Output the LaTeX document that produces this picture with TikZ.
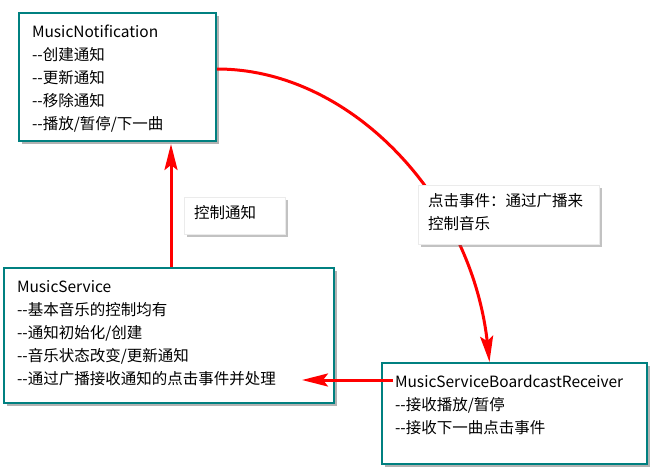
\documentclass[tikz,border=0pt]{standalone}
\usepackage{fontspec}
\setmainfont{Noto Sans CJK SC}
\usepackage{tikz}
\usetikzlibrary{arrows.meta,shadows,calc}

\newcommand\boxtext[3]{\begin{minipage}[t][#2][t]{#1}\strut#3\end{minipage}}

\tikzset{
  mbox/.style={draw=teal, line width=2pt, fill=white, anchor=north west,
    inner xsep=13pt, inner ysep=8pt,
    drop shadow={shadow xshift=3pt, shadow yshift=-3pt, opacity=.5, fill=black!60}},
  tag/.style={draw=black!8, fill=white, anchor=north west,
    inner xsep=10pt, inner ysep=5pt,
    drop shadow={shadow xshift=3pt, shadow yshift=-3pt, opacity=.4, fill=black!60}},
  arr/.style={draw=red, line width=3pt, -{Stealth[length=26pt,width=13pt,inset=5pt]}}
}

\begin{document}
\begin{tikzpicture}[x=1pt, y=-1pt, font=\fontsize{15.5}{23}\selectfont]
    \useasboundingbox (0,0) rectangle (653,474);

    % Boxes
    \node[mbox] (notif) at (18,12) {\boxtext{171pt}{112pt}{MusicNotification\\
        -{}-创建通知\\
        -{}-更新通知\\
        -{}-移除通知\\
        -{}-播放/暂停/下一曲}};
    \node[mbox] (svc) at (3,267) {\boxtext{304pt}{119pt}{MusicService\\
        -{}-基本音乐的控制均有\\
        -{}-通知初始化/创建\\
        -{}-音乐状态改变/更新通知\\
        -{}-通过广播接收通知的点击事件并处理}};
    \node[mbox] (recv) at (381,362) {\boxtext{239pt}{85pt}{MusicServiceBoardcastReceiver\\
        -{}-接收播放/暂停\\
        -{}-接收下一曲点击事件}};

    % Connector ends
    \coordinate (up) at (171,0);
    \coordinate (recvOut) at (393,380);
    \coordinate (svcIn) at (302,380);

    % Arrows
    \draw[arr] (svc.north -| up) -- ([yshift=-2pt]notif.south -| up);
    \draw[arr] ([yshift=8pt]notif.east) .. controls +(135,0) and +(-18,-162) .. ([xshift=-25pt]recv.north);
    \draw[arr] (recvOut) -- (svcIn);

    % Labels
    \node[tag] (ctl) at (184,197) {\boxtext{81pt}{27pt}{控制通知}};
    \node[tag] (click) at (418,185) {\boxtext{161pt}{49pt}{点击事件：通过广播来\\控制音乐}};
\end{tikzpicture}
\end{document}
